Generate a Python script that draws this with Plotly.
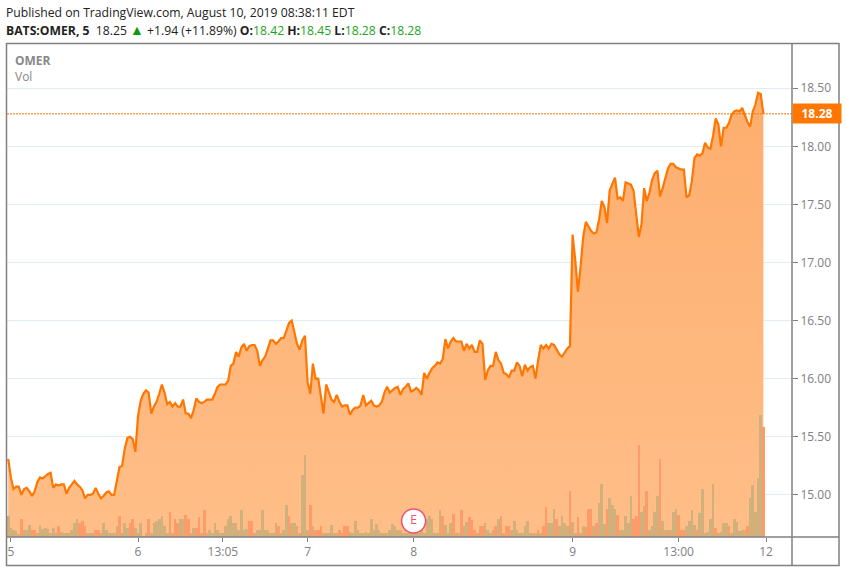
import plotly.graph_objects as go

# OMER 5 min closes
price = [
    15.31, 15.15, 15.05, 15.07, 15.07, 15.00, 15.05, 15.06, 15.03, 14.99,
    15.03, 15.11, 15.15, 15.14, 15.16, 15.18, 15.19, 15.06, 15.09, 15.08,
    15.09, 15.09, 15.01, 15.06, 15.09, 15.12, 15.09, 15.07, 15.04, 14.97,
    15.00, 15.00, 15.01, 15.06, 15.01, 14.97, 14.99, 15.02, 15.03, 15.00,
    15.00, 15.11, 15.24, 15.25, 15.40, 15.49, 15.50, 15.48, 15.37, 15.68,
    15.81, 15.87, 15.90, 15.88, 15.70, 15.76, 15.80, 15.87, 15.95, 15.88,
    15.78, 15.80, 15.76, 15.79, 15.76, 15.76, 15.82, 15.70, 15.70, 15.66,
    15.73, 15.83, 15.80, 15.79, 15.80, 15.82, 15.82, 15.82, 15.87, 15.93,
    15.95, 15.95, 15.95, 15.98, 16.11, 16.13, 16.23, 16.19, 16.27, 16.30,
    16.24, 16.28, 16.29, 16.29, 16.24, 16.11, 16.16, 16.19, 16.27, 16.33,
    16.33, 16.30, 16.32, 16.35, 16.35, 16.41, 16.48, 16.50, 16.41, 16.30,
    16.25, 16.33, 16.37, 15.97, 15.87, 16.13, 16.00, 16.00, 15.85, 15.70,
    15.95, 15.88, 15.82, 15.80, 15.86, 15.80, 15.76, 15.77, 15.77, 15.69,
    15.73, 15.75, 15.75, 15.77, 15.86, 15.77, 15.79, 15.81, 15.77, 15.76,
    15.77, 15.80, 15.88, 15.93, 15.88, 15.90, 15.92, 15.93, 15.86, 15.91,
    15.93, 15.96, 15.89, 15.90, 15.92, 15.90, 15.86, 16.05, 16.00, 16.05,
    16.09, 16.11, 16.14, 16.13, 16.17, 16.34, 16.26, 16.32, 16.35, 16.32,
    16.32, 16.32, 16.24, 16.30, 16.26, 16.29, 16.23, 16.23, 16.33, 16.30,
    15.99, 16.07, 16.11, 16.11, 16.23, 16.16, 16.13, 16.05, 16.04, 16.01,
    16.07, 16.07, 16.14, 16.11, 16.02, 16.12, 16.07, 16.10, 16.11, 16.00,
    16.16, 16.29, 16.26, 16.29, 16.26, 16.30, 16.29, 16.25, 16.21, 16.19,
    16.23, 16.26, 16.28, 17.24, 17.02, 16.75, 16.96, 17.22, 17.35, 17.31,
    17.27, 17.25, 17.26, 17.37, 17.53, 17.48, 17.34, 17.62, 17.68, 17.73,
    17.55, 17.56, 17.53, 17.69, 17.68, 17.67, 17.62, 17.42, 17.22, 17.33,
    17.64, 17.53, 17.60, 17.71, 17.77, 17.79, 17.57, 17.64, 17.73, 17.81,
    17.85, 17.85, 17.82, 17.81, 17.80, 17.80, 17.56, 17.58, 17.70, 17.90,
    17.93, 17.92, 17.94, 18.03, 17.99, 17.98, 18.09, 18.24, 18.19, 18.00,
    18.16, 18.16, 18.20, 18.27, 18.30, 18.31, 18.30, 18.33, 18.27, 18.21,
    18.17, 18.30, 18.36, 18.46, 18.45, 18.28,
]

# volume bars, thousands of shares (estimated)
volume = [
    21, 9, 7, 6, 3, 18, 7, 7, 12, 7,
    7, 4, 12, 8, 9, 8, 4, 9, 4, 11,
    5, 4, 4, 4, 7, 14, 18, 14, 16, 11,
    4, 4, 4, 7, 7, 4, 14, 7, 4, 4,
    4, 11, 21, 4, 14, 9, 14, 18, 9, 4,
    14, 1, 4, 18, 4, 14, 16, 18, 21, 11,
    4, 25, 4, 18, 14, 18, 18, 22, 18, 4,
    9, 9, 20, 4, 27, 4, 7, 4, 14, 7,
    4, 4, 11, 18, 21, 14, 14, 7, 27, 7,
    8, 16, 16, 4, 7, 7, 27, 7, 7, 4,
    4, 14, 11, 4, 7, 32, 21, 14, 14, 11,
    4, 62, 82, 7, 32, 11, 7, 7, 11, 4,
    4, 4, 12, 4, 4, 7, 4, 11, 11, 5,
    4, 16, 7, 4, 4, 5, 4, 18, 7, 13,
    7, 4, 4, 4, 7, 13, 11, 7, 7, 4,
    4, 4, 4, 7, 7, 4, 7, 4, 18, 21,
    18, 4, 4, 27, 21, 12, 4, 14, 23, 4,
    4, 27, 11, 15, 20, 17, 7, 4, 11, 11,
    14, 7, 4, 7, 11, 18, 21, 4, 11, 11,
    7, 16, 7, 4, 4, 11, 16, 4, 4, 4,
    7, 4, 11, 30, 14, 14, 28, 18, 11, 21,
    14, 11, 46, 15, 4, 20, 4, 11, 10, 28,
    28, 11, 14, 34, 53, 13, 28, 39, 32, 28,
    22, 7, 7, 21, 14, 41, 18, 21, 92, 25,
    31, 46, 7, 11, 25, 41, 78, 16, 7, 7,
    7, 25, 28, 22, 7, 7, 11, 16, 27, 12,
    7, 24, 48, 4, 5, 18, 53, 9, 4, 5,
    14, 14, 11, 4, 18, 15, 6, 7, 7, 11,
    39, 52, 25, 59, 122, 110,
]

# bars that closed down
down_bars = [
    5, 9, 10, 19, 27, 28, 29, 33, 34, 42, 46, 47, 53, 61, 63, 64, 67, 68,
    71, 72, 74, 91, 92, 102, 106, 109, 114, 116, 117, 118, 125, 126, 127, 128,
    164, 168, 171, 174, 175, 176, 178, 179, 184, 186, 188, 189,
    200, 202, 203, 207, 212, 215, 218, 219, 220, 222, 226, 230, 236, 237, 238,
    241, 246, 249, 253, 254, 255, 260, 267, 272, 279, 285,
]

tick_bars = [1, 49, 81, 113, 153, 213, 253, 286]
tick_labels = ["5", "6", "13:05", "7", "8", "9", "13:00", "12"]
price_ticks = [15.0, 15.5, 16.0, 16.5, 17.0, 17.5, 18.0, 18.5]
last_price = 18.28
earnings_bar = 153
earnings_vol = 16

W, H = 846, 572
L, R, T, B = 7, 792, 44, 537
FONT = "Open Sans"
GRAY = "#808080"
ORANGE = "#ff7600"


def px(x):
    return (x - L) / (R - L)


def py(y):
    return (B - y) / (B - T)


bars = list(range(len(price)))

fig = go.Figure()
fig.add_trace(go.Scatter(
    x=bars, y=price, mode="lines",
    line=dict(color=ORANGE, width=2.2),
    fill="tozeroy",
    fillgradient=dict(
        type="vertical", start=18.45, stop=14.63,
        colorscale=[[0, "#fdae6e"], [1, "#ffbe88"]],
    ),
    hoverinfo="skip", showlegend=False,
))
fig.add_trace(go.Bar(
    x=bars, y=volume, yaxis="y2",
    marker=dict(
        color=["#fe9b68" if i in down_bars else "#d2b07c" for i in bars],
        line_width=0,
    ),
    hoverinfo="skip", showlegend=False,
))
fig.add_trace(go.Scatter(
    x=[earnings_bar], y=[earnings_vol], yaxis="y2",
    mode="markers+text", text=["E"], textposition="middle center",
    textfont=dict(family=FONT, size=12, color="#f0506e"),
    marker=dict(size=24, color="white", line=dict(color="#f0506e", width=1.5)),
    hoverinfo="skip", showlegend=False,
))

# last price line and frame
fig.add_shape(type="line", xref="paper", x0=0, x1=1, yref="y", y0=last_price, y1=last_price,
              line=dict(color=ORANGE, width=1, dash="2px,1px"))
frame = dict(color=GRAY, width=1.5)
fig.add_shape(type="rect", xref="paper", yref="paper", x0=px(6.5), x1=px(839), y0=py(565.5), y1=py(43.5),
              line=frame, layer="above")
fig.add_shape(type="line", xref="paper", yref="paper", x0=1, x1=1, y0=py(565.5), y1=py(43.5),
              line=frame, layer="above")
fig.add_shape(type="line", xref="paper", yref="paper", x0=px(6.5), x1=px(839), y0=0, y1=0,
              line=frame, layer="above")

header1 = "Published on TradingView.com, August 10, 2019 08:38:11 EDT"
green = '<span style="color:#1aa51a">%s</span>'
triangle = '<span style="color:#0a9a0a;font-size:14px">▲</span>'
header2 = ("<b>BATS:OMER, 5</b>  18.25 " + triangle + " +1.94 (+11.89%) "
           + "<b>O:</b>" + green % "18.42" + " <b>H:</b>" + green % "18.45"
           + " <b>L:</b>" + green % "18.28" + " <b>C:</b>" + green % "18.28")


def label(text, x, y, size=12, color="#222222"):
    fig.add_annotation(text=text, xref="paper", yref="paper", x=px(x), y=py(y),
                       xanchor="left", yanchor="middle", showarrow=False,
                       font=dict(family=FONT, size=size, color=color))


label(header1, 4, 12, size=12.2)
label(header2, 4, 29.5, size=12.2)
label("<b>OMER</b>", 13, 60, color="#888888")
label("Vol", 13, 77, color="#888888")

fig.add_annotation(text="<b>%.2f</b>" % last_price, xref="paper", yref="y", x=1, y=last_price,
                   xanchor="left", yanchor="middle", showarrow=False,
                   width=46, height=17, bgcolor=ORANGE,
                   font=dict(family=FONT, size=12, color="white"))

fig.update_layout(
    width=W, height=H,
    margin=dict(l=L, r=W - R, t=T, b=H - B, autoexpand=False),
    paper_bgcolor="white", plot_bgcolor="white",
    bargap=0, showlegend=False,
    font=dict(family=FONT),
    xaxis=dict(
        range=[-0.45, 295.8], tickvals=tick_bars, ticktext=tick_labels,
        showgrid=False, zeroline=False, ticks="outside", ticklen=4, tickcolor=GRAY,
        tickfont=dict(family=FONT, size=12, color="#808080"),
    ),
    yaxis=dict(
        range=[14.637, 18.881], side="right", tickvals=price_ticks, tickformat=".2f",
        gridcolor="#e1ecf2", gridwidth=1, zeroline=False,
        ticks="outside", ticklen=5, tickcolor=GRAY,
        tickfont=dict(family=FONT, size=12, color="#808080"),
    ),
    yaxis2=dict(range=[0, B - T], overlaying="y", visible=False),
)

# the page's default body margin would push the chart 8px in
fig.write_html("out.html", config={"displayModeBar": False},
               post_script="document.body.style.margin = '0';")
